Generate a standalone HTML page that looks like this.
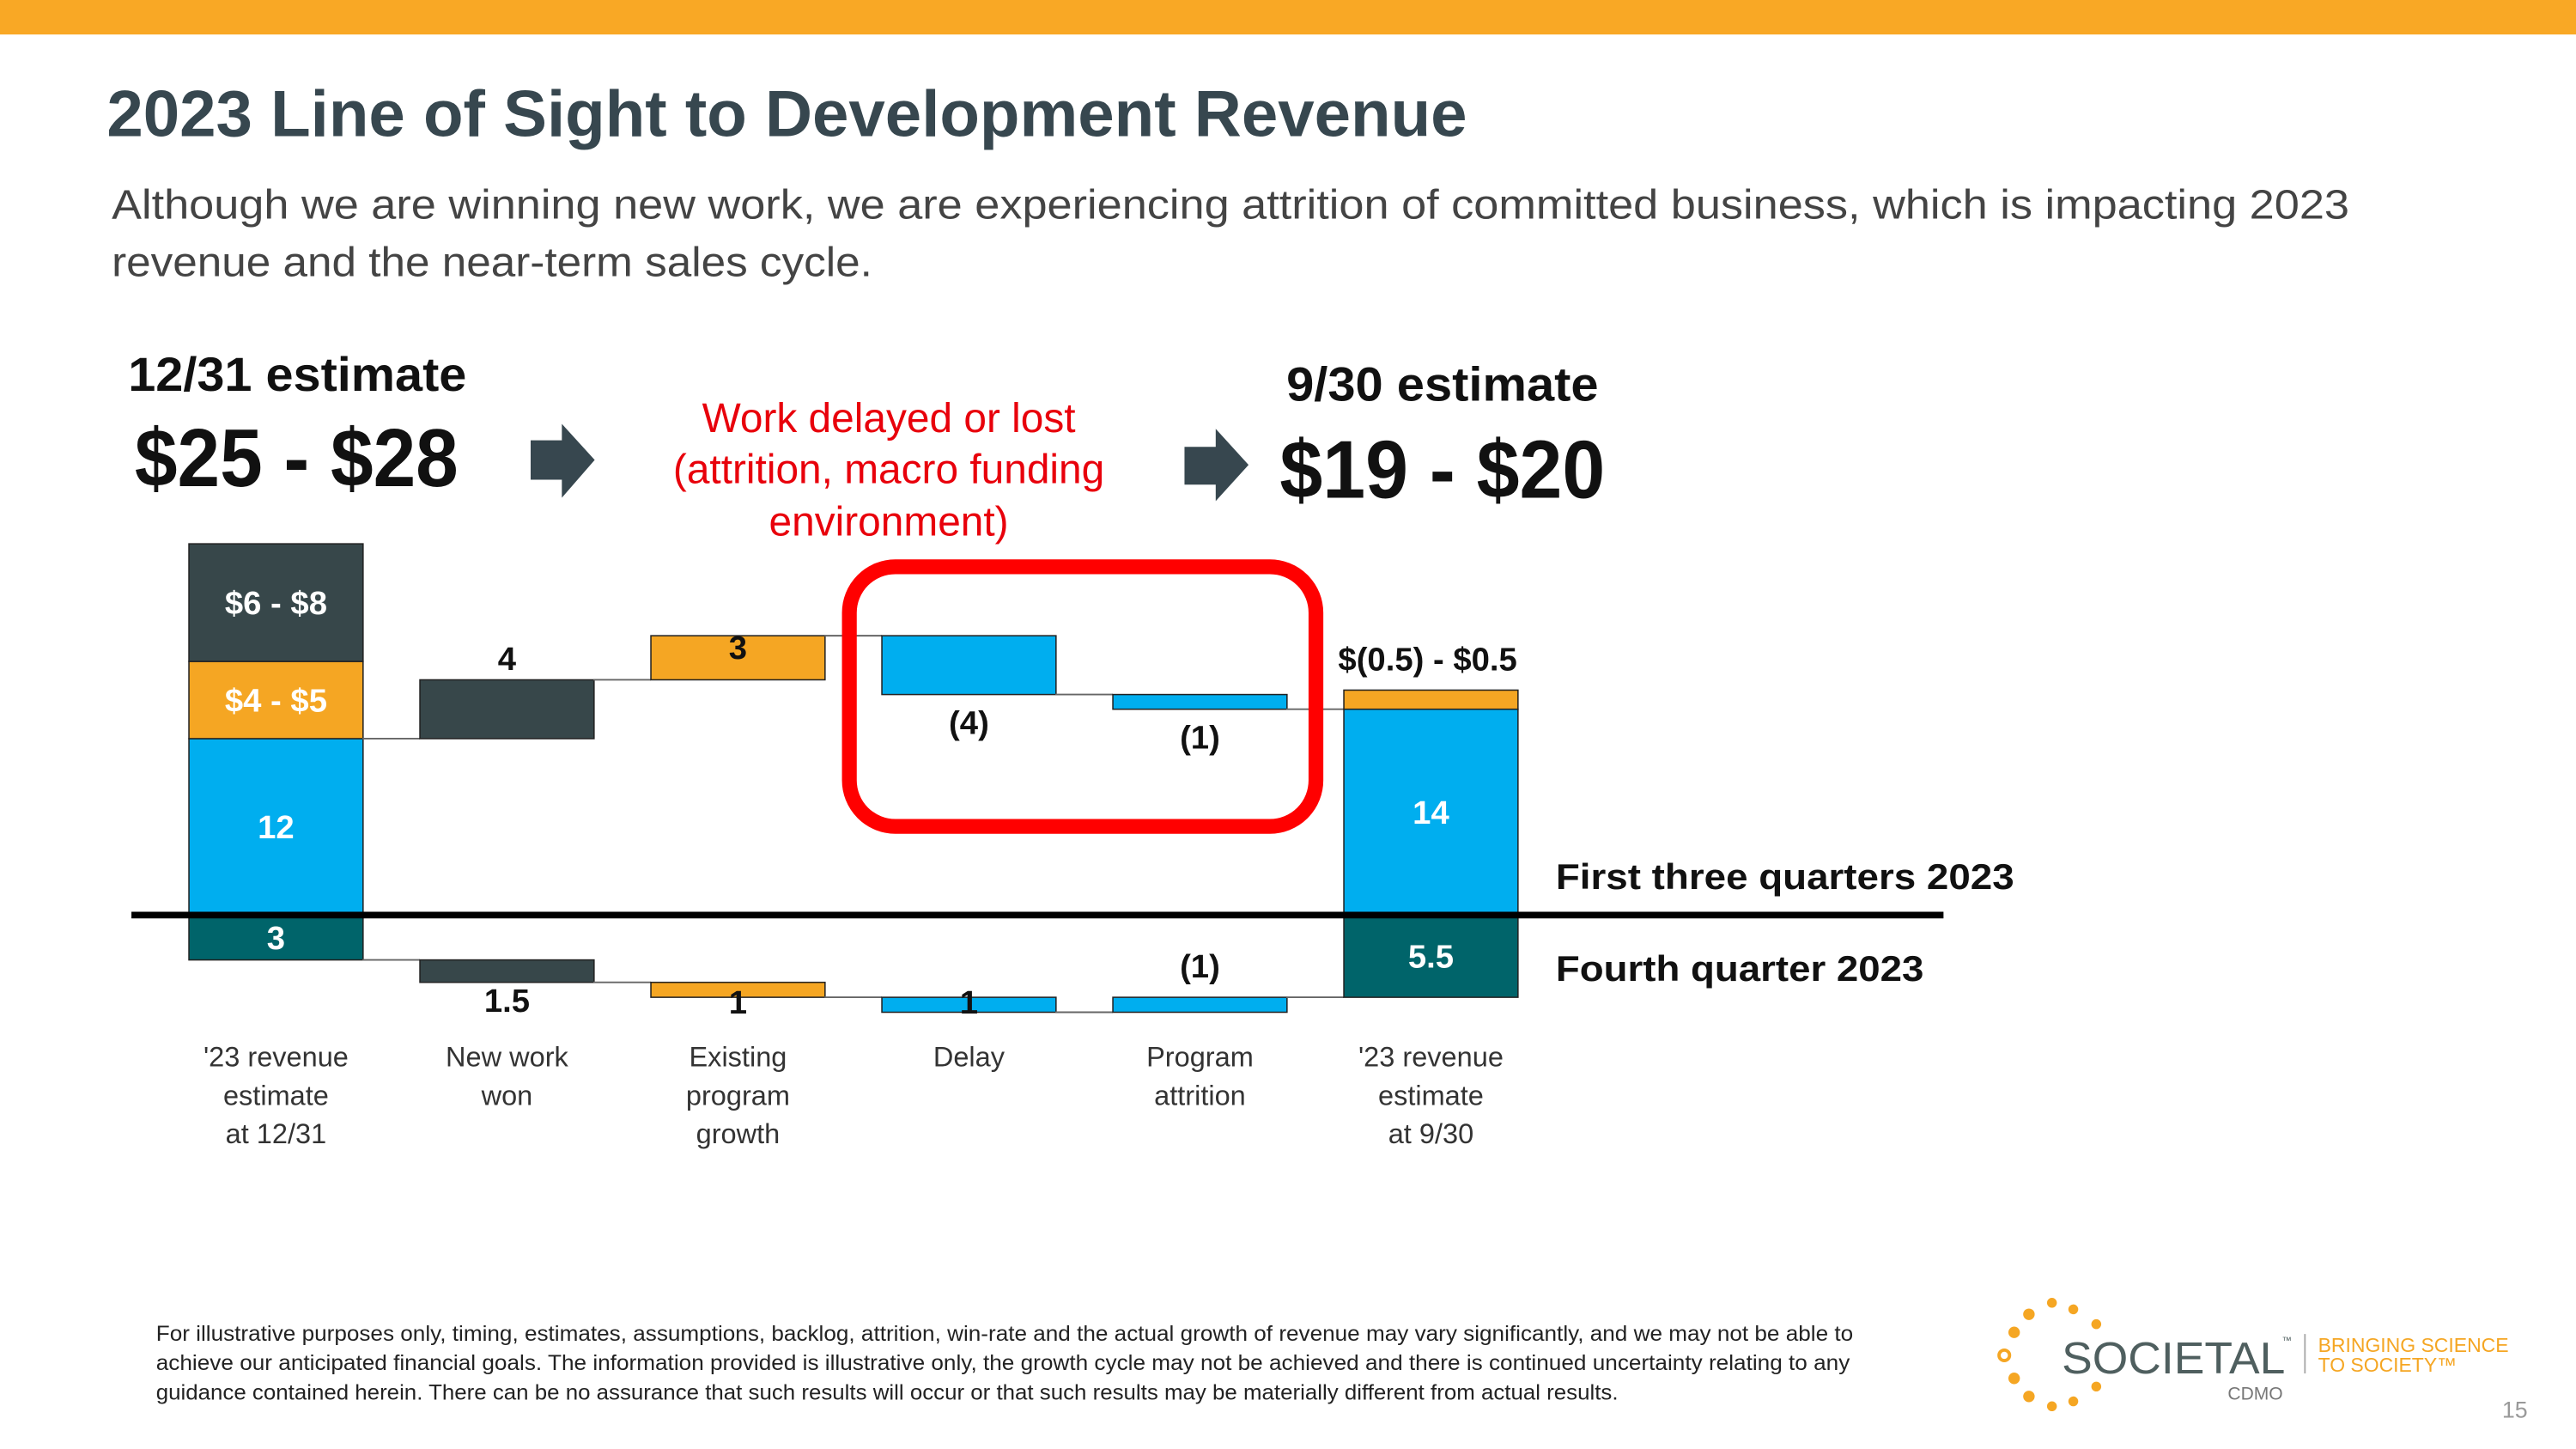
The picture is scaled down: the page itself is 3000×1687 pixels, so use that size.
<!DOCTYPE html>
<html><head><meta charset="utf-8"><style>
html,body{margin:0;padding:0;background:#fff;}
svg{display:block;}
text{font-family:"Liberation Sans",sans-serif;}
</style></head><body>
<svg id="s" width="3000" height="1687" viewBox="0 0 1568 882" preserveAspectRatio="none" xmlns="http://www.w3.org/2000/svg">
<rect x="0" y="0" width="1568" height="21" fill="#f9a825"/>
<text x="65" y="83" font-size="40" font-weight="bold" fill="#37474f" textLength="828" lengthAdjust="spacingAndGlyphs">2023 Line of Sight to Development Revenue</text>
<text x="68" y="133" font-size="25" fill="#444" textLength="1362" lengthAdjust="spacingAndGlyphs">Although we are winning new work, we are experiencing attrition of committed business, which is impacting 2023</text>
<text x="68" y="168" font-size="25" fill="#444" textLength="463" lengthAdjust="spacingAndGlyphs">revenue and the near-term sales cycle.</text>

<text x="78" y="238" font-size="29" font-weight="bold" fill="#111" textLength="206" lengthAdjust="spacingAndGlyphs">12/31 estimate</text>
<text x="82" y="296" font-size="50" font-weight="bold" fill="#111" textLength="197" lengthAdjust="spacingAndGlyphs">$25 - $28</text>
<polygon points="323,268 342,268 342,258 362,280 342,303 342,292 323,292" fill="#37474f"/>
<g font-size="25" fill="#e8000b" text-anchor="middle">
<text x="541" y="263">Work delayed or lost</text>
<text x="541" y="294">(attrition, macro funding</text>
<text x="541" y="326">environment)</text>
</g>
<polygon points="721,272 740,272 740,261 760,283 740,305 740,295 721,295" fill="#37474f"/>
<text x="783" y="244" font-size="29" font-weight="bold" fill="#111" textLength="190" lengthAdjust="spacingAndGlyphs">9/30 estimate</text>
<text x="779" y="303" font-size="50" font-weight="bold" fill="#111" textLength="198" lengthAdjust="spacingAndGlyphs">$19 - $20</text>

<g id="chart"></g>

<rect x="517" y="345" width="284" height="158" rx="28" fill="none" stroke="#ff0000" stroke-width="9"/>
<line x1="80" y1="557" x2="1183" y2="557" stroke="#000" stroke-width="4"/>
<text x="947" y="541" font-size="22" font-weight="bold" fill="#111" textLength="279" lengthAdjust="spacingAndGlyphs">First three quarters 2023</text>
<text x="947" y="597" font-size="22" font-weight="bold" fill="#111" textLength="224" lengthAdjust="spacingAndGlyphs">Fourth quarter 2023</text>

<g font-size="13" fill="#222">
<text x="95" y="816" textLength="1033" lengthAdjust="spacingAndGlyphs">For illustrative purposes only, timing, estimates, assumptions, backlog, attrition, win-rate and the actual growth of revenue may vary significantly, and we may not be able to</text>
<text x="95" y="834" textLength="1031" lengthAdjust="spacingAndGlyphs">achieve our anticipated financial goals. The information provided is illustrative only, the growth cycle may not be achieved and there is continued uncertainty relating to any</text>
<text x="95" y="852" textLength="890" lengthAdjust="spacingAndGlyphs">guidance contained herein. There can be no assurance that such results will occur or that such results may be materially different from actual results.</text>
</g>
<g fill="#f5a623">
<circle cx="1249" cy="793" r="3"/><circle cx="1262" cy="797" r="3"/><circle cx="1235" cy="800" r="3.5"/><circle cx="1276" cy="806" r="3"/><circle cx="1226" cy="811" r="3.5"/>
<circle cx="1220" cy="825" r="3.2" fill="none" stroke="#f5a623" stroke-width="2"/>
<circle cx="1226" cy="839" r="3.5"/><circle cx="1276" cy="844" r="3"/><circle cx="1235" cy="850" r="3.5"/><circle cx="1262" cy="853" r="3"/><circle cx="1249" cy="856" r="3"/>
<text x="1255" y="836" font-size="27" fill="#4f5f5f" textLength="136" lengthAdjust="spacingAndGlyphs">SOCIETAL</text>
<text x="1389" y="818" font-size="6" fill="#4f5f5f">™</text>
<line x1="1403" y1="812" x2="1403" y2="836" stroke="#aaa" stroke-width="1"/>
<text x="1411" y="823" font-size="12" fill="#f5a623" textLength="116" lengthAdjust="spacingAndGlyphs">BRINGING SCIENCE</text>
<text x="1411" y="835" font-size="12" fill="#f5a623">TO SOCIETY™</text>
<text x="1356" y="852" font-size="11" fill="#777">CDMO</text>
</g>
<text x="1523" y="863" font-size="14" fill="#999">15</text>
</svg>
<script>
const categories = [["'23 revenue","estimate","at 12/31"],["New work","won"],["Existing","program","growth"],["Delay"],["Program","attrition"],["'23 revenue","estimate","at 9/30"]];
const firstStack = [12, 5.25, 8];
const firstStackLabels = ["12", "$4 - $5", "$6 - $8"];
const upperDeltas = [4, 3, -4, -1];
const upperDeltaLabels = ["4", "3", "(4)", "(1)"];
const finalUpper = [14, 1.3];
const finalUpperLabels = ["14", "$(0.5) - $0.5"];
const lowerStart = 3;
const lowerDeltas = [1.5, 1, 1, -1];
const lowerDeltaLabels = ["1.5", "1", "1", "(1)"];
const finalLower = 5.5;
const lowerStartLabel = "3";
const finalLowerLabel = "5.5";

const NS = "http://www.w3.org/2000/svg";
const g = document.getElementById('chart');
const BASE = 557, UP = 8.95, LO = 9.1, BW = 106;
const yU = v => BASE - v * UP;
const yL = v => BASE + v * LO;
const xB = i => 115 + i * 140.6;
const C = {dark:"#37474a", orange:"#f5a623", blue:"#00aeef", teal:"#00646a"};
function rect(x, y1, y2, fill, name) {
  const r = document.createElementNS(NS, 'rect');
  r.setAttribute('x', x); r.setAttribute('y', Math.min(y1, y2));
  r.setAttribute('width', BW); r.setAttribute('height', Math.abs(y2 - y1));
  r.setAttribute('fill', fill); r.setAttribute('stroke', '#222'); r.setAttribute('stroke-width', '0.8');
  
  
  g.appendChild(r);
}
function line(x1, x2, y, name) {
  const l = document.createElementNS(NS, 'line');
  l.setAttribute('x1', x1); l.setAttribute('x2', x2); l.setAttribute('y1', y); l.setAttribute('y2', y);
  l.setAttribute('stroke', '#666'); l.setAttribute('stroke-width', '1');
  
  
  g.appendChild(l);
}
function text(x, y, s, size, fill, name, bold) {
  const t = document.createElementNS(NS, 'text');
  t.setAttribute('x', x); t.setAttribute('y', y); t.setAttribute('font-size', size);
  t.setAttribute('fill', fill); t.setAttribute('text-anchor', 'middle');
  if (bold !== false) t.setAttribute('font-weight', 'bold');
  t.textContent = s;
  
  
  g.appendChild(t);
}
const stackColors = [C.blue, C.orange, C.dark];
let acc = 0;
firstStack.forEach((v, k) => {
  rect(xB(0), yU(acc), yU(acc + v), stackColors[k], 'start-bar-segment-' + k);
  text(xB(0) + BW/2, (yU(acc) + yU(acc + v))/2 + 7, firstStackLabels[k], 20, '#fff', 'start-bar-label-' + k);
  acc += v;
});
let run = firstStack[0];
const upColors = [C.dark, C.orange, C.blue, C.blue];
upperDeltas.forEach((d, k) => {
  const i = k + 1;
  line(xB(i) - 35, xB(i), yU(run), 'upper-connector-' + i);
  const nr = run + d;
  rect(xB(i), yU(run), yU(nr), upColors[k], 'upper-bar-' + i);
  const ly = d > 0 ? yU(nr) - 6 : yU(nr) + 24;
  text(xB(i) + BW/2, k === 1 ? yU(nr) + 14 : ly, upperDeltaLabels[k], 20, '#111', 'upper-value-' + i);
  run = nr;
});
line(xB(5) - 35, xB(5), yU(run), 'upper-connector-5');
rect(xB(5), yU(0), yU(finalUpper[0]), C.blue, 'end-bar-upper');
rect(xB(5), yU(finalUpper[0]), yU(finalUpper[0] + finalUpper[1]), C.orange, 'end-bar-range');
text(xB(5) + BW/2, (yU(0) + yU(finalUpper[0]))/2 + 7, finalUpperLabels[0], 20, '#fff', 'end-bar-upper-label');
text(xB(5) + BW/2 - 2, yU(finalUpper[0] + finalUpper[1]) - 12, finalUpperLabels[1], 20, '#111', 'end-bar-range-label');
rect(xB(0), yL(0), yL(lowerStart), C.teal, 'start-bar-q4');
text(xB(0) + BW/2, yL(lowerStart/2) + 7, lowerStartLabel, 20, '#fff', 'start-bar-q4-label');
let lr = lowerStart;
lowerDeltas.forEach((d, k) => {
  const i = k + 1;
  line(xB(i) - 35, xB(i), yL(lr), 'lower-connector-' + i);
  const nr = lr + d;
  rect(xB(i), yL(lr), yL(nr), upColors[k], 'lower-bar-' + i);
  const ly = d > 0 ? (k === 0 ? yL(nr) + 18 : yL(k === 1 ? nr : lr) + 10) : yL(nr) - 12;
  text(xB(i) + BW/2, ly, lowerDeltaLabels[k], 20, '#111', 'lower-value-' + i);
  lr = nr;
});
line(xB(5) - 35, xB(5), yL(lr), 'lower-connector-5');
rect(xB(5), yL(0), yL(finalLower), C.teal, 'end-bar-q4');
text(xB(5) + BW/2, yL(finalLower/2) + 7, finalLowerLabel, 20, '#fff', 'end-bar-q4-label');
categories.forEach((lines, i) => {
  lines.forEach((s, j) => text(xB(i) + BW/2, 649 + j * 23.5, s, 17, '#333', 'category-label-' + i + '-' + j, false));
});
</script>
</body></html>
